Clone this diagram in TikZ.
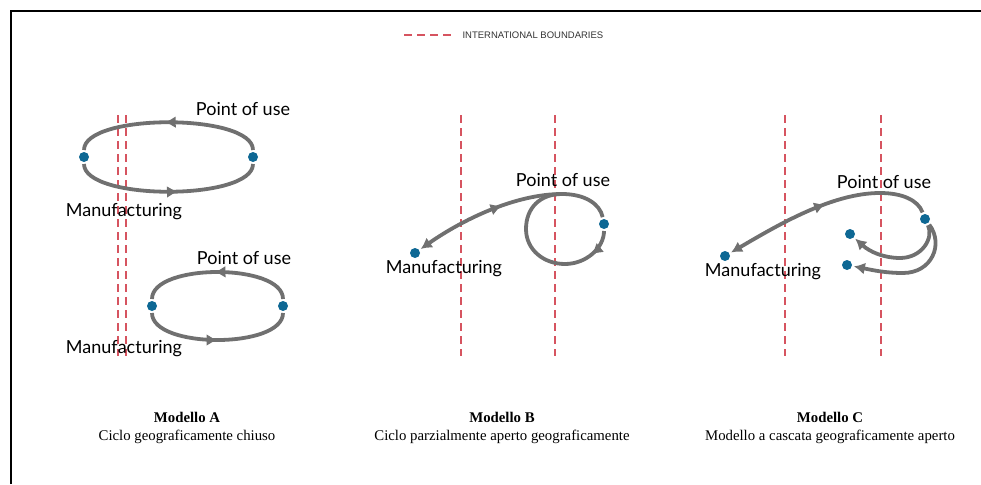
\documentclass[tikz,border=0pt]{standalone}
\usepackage{fontspec}
\setmainfont{Liberation Serif}
\newfontfamily\labelfont{Lato}
\newfontfamily\legendfont{Liberation Sans}
\usetikzlibrary{arrows.meta,positioning,decorations.markings}
\definecolor{flowgray}{RGB}{112,112,112}
\definecolor{dotblue}{RGB}{14,104,148}
\definecolor{borderred}{RGB}{214,84,96}

\begin{document}
\begin{tikzpicture}[x=1pt,y=-1pt,every node/.style={font=\labelfont\fontsize{18}{20}\selectfont},
  site/.style={circle,fill=dotblue,minimum size=10pt,inner sep=0pt,outer sep=2pt},
  flow/.style={draw=flowgray,line width=3.8pt},
  tip/.style={-{Latex[length=11pt,width=12pt]}},
  midarrow/.style={postaction={decorate},decoration={markings,mark=at position #1 with {\arrow{Latex[length=11pt,width=12pt]}}}},
  midback/.style={postaction={decorate},decoration={markings,mark=at position #1 with {\arrowreversed{Latex[length=11pt,width=12pt]}}}},
  boundary/.style={draw=borderred,line width=1.3pt,dash pattern=on 8pt off 5pt},
  caption/.style={font=\fontsize{14.8}{18}\selectfont,align=center}]
\useasboundingbox (0,0) rectangle (981,484);
\draw[line width=1.3pt] (11,484)--(11,11)--(981,11);
% legend
\coordinate (lgA) at (404,35);
\coordinate (lgB) at (452,35);
\draw[boundary] (lgA)--(lgB);
\node[anchor=west,font=\legendfont\fontsize{9.5}{10}\selectfont,text=black!80] (lgT) at (459,35) {INTERNATIONAL BOUNDARIES};
% borders
\foreach \x in {118,126,461,555,785,881}
  \draw[boundary] (\x,115)--(\x,356);
% Modello A
\node[site] (mA1) at (84,157) {};
\node[site] (pA1) at (253,157) {};
\draw[flow,midarrow=0.52] (pA1) .. controls (253,113) and (84,113) .. (mA1);
\draw[flow,midarrow=0.55] (mA1) .. controls (84,201) and (253,201) .. (pA1);
\node (uA1) at (243,109) {Point of use};
\node (fA1) at (124,212) {Manufacturing};
\node[site] (mA2) at (152,306) {};
\node[site] (pA2) at (283,306) {};
\draw[flow,midarrow=0.52] (pA2) .. controls (283,263) and (152,263) .. (mA2);
\draw[flow,midarrow=0.5] (mA2) .. controls (152,349) and (283,349) .. (pA2);
\node (uA2) at (244,258) {Point of use};
\node (fA2) at (124,349) {Manufacturing};
% Modello B
\node[site] (mB) at (415,253) {};
\node[site] (pB) at (604,224) {};
\coordinate (tB) at (562,194);
\draw[flow,tip,midback=0.55] (pB) .. controls (600,204) and (585,194) .. (tB) .. controls (515,194) and (462,220) .. (mB);
\draw[flow,midarrow=0.16] (pB) .. controls (604,248) and (586,264) .. (565,264) .. controls (544,264) and (526,250) .. (526,229) .. controls (526,208) and (540,194) .. (tB);
\node (uB) at (563,180) {Point of use};
\node (fB) at (444,269) {Manufacturing};
% Modello C
\node[site] (mC) at (725,256) {};
\node[site] (pC) at (925,219) {};
\node[site] (cC1) at (850,234) {};
\node[site] (cC2) at (847,265) {};
\coordinate (tC) at (880,193);
\draw[flow,tip,midback=0.5] (pC) .. controls (918,200) and (902,193) .. (tC) .. controls (832,193) and (778,225) .. (mC);
\draw[flow,tip] (pC) .. controls (934,238) and (922,258) .. (900,258) .. controls (884,258) and (870,252) .. (cC1);
\draw[flow,tip] (pC) .. controls (944,244) and (932,273) .. (903,273) .. controls (885,273) and (872,270) .. (cC2);
\node (uC) at (884,182) {Point of use};
\node (fC) at (763,272) {Manufacturing};
% captions
\node[caption] (capA) at (187,428) {\textbf{Modello A}\\Ciclo geograficamente chiuso};
\node[caption] (capB) at (502,428) {\textbf{Modello B}\\Ciclo parzialmente aperto geograficamente};
\node[caption] (capC) at (830,428) {\textbf{Modello C}\\Modello a cascata geograficamente aperto};
\end{tikzpicture}
\end{document}
